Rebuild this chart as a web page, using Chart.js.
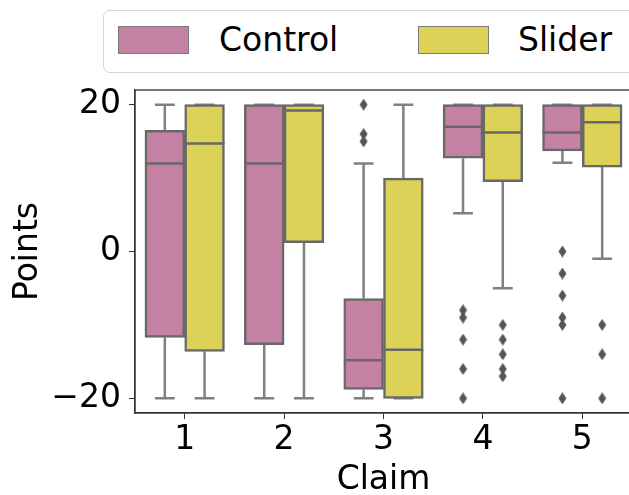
<!DOCTYPE html>
<html>
<head>
<meta charset="utf-8">
<script src="https://cdn.jsdelivr.net/npm/chart.js@4"></script>
<style>
  html, body { margin: 0; padding: 0; overflow: hidden; background: #fff; width: 629px; height: 495px; }
  #wrap { position: relative; width: 640px; height: 495px; }
  canvas { position: absolute; left: 0; top: 0; }
  #legend { position: absolute; left: 103px; top: 10px; width: 560px; height: 61px; border: 1px solid #d6d6d6; border-radius: 7px; background: #fff; font-family: 'DejaVu Sans', sans-serif; font-size: 33px; color: #000; }
  .patch { position: absolute; top: 15px; width: 69px; height: 26px; border: 1px solid #7a7a7a; }
  .ltext { position: absolute; top: 9px; line-height: 40px; }
</style>
</head>
<body>
<div id="wrap">
  <canvas id="c" width="640" height="495"></canvas>
  <div id="legend">
    <div class="patch" style="left:14px;background:#C581A3;"></div>
    <div class="ltext" style="left:115px;">Control</div>
    <div class="patch" style="left:314px;background:#DBD257;"></div>
    <div class="ltext" style="left:414px;">Slider</div>
  </div>
</div>
<script>
// ---- data ----
const claims = ['1', '2', '3', '4', '5'];
const yTicks = [-20, 0, 20];

const controlQ1  = [-11.7, -12.7, -18.8, 12.7, 13.7];
const controlMed = [12.0, 12.0, -14.8, 17.0, 16.2];
const controlQ3  = [16.5, 20, -6.4, 20, 20];
const controlLo  = [-20, -20, -20, 5.2, 12.1];
const controlHi  = [20, 20, 12, 20, 20];
const controlOut = [[], [], [20, 16, 15], [-8, -9, -12, -16, -20], [0, -3, -6, -9, -10, -20]];

const sliderQ1  = [-13.6, 1.2, -20, 9.5, 11.5];
const sliderMed = [14.7, 19.2, -13.4, 16.2, 17.6];
const sliderQ3  = [20, 20, 10, 20, 20];
const sliderLo  = [-20, -20, -20, -5, -1];
const sliderHi  = [20, 20, 20, 20, 20];
const sliderOut = [[], [], [], [-10, -12, -14, -16, -17], [-10, -14, -20]];

// ---- styles ----
const PINK = '#C581A3', YELLOW = '#DBD257';
const EDGE = '#686868', WHISK = '#808080', FLIER = '#555555';
const FONT = "'DejaVu Sans', sans-serif";

// thin diamond marker like matplotlib 'd'
const diamond = document.createElement('canvas');
diamond.width = 9; diamond.height = 12;
(function () {
  const g = diamond.getContext('2d');
  g.fillStyle = FLIER;
  g.beginPath();
  g.moveTo(4.5, 0); g.lineTo(8.5, 6); g.lineTo(4.5, 12); g.lineTo(0.5, 6);
  g.closePath(); g.fill();
})();

function boxSet(label, q1, q3, color, off) {
  return {
    type: 'bar', label, order: 3, grouped: false,
    data: q1.map((v, i) => ({ x: i + off, y: [v, q3[i]] })),
    backgroundColor: color, borderColor: EDGE, borderWidth: 2.5, borderSkipped: false,
    categoryPercentage: 1.0, barPercentage: 1.0
  };
}
function whiskerSet(q1, q3, lo, hi, off) {
  const pts = [];
  claims.forEach((c, i) => {
    const x = i + off;
    pts.push({x, y: q1[i]}, {x, y: lo[i]}, {x, y: null});
    pts.push({x, y: q3[i]}, {x, y: hi[i]}, {x, y: null});
    pts.push({x: x - 0.1, y: lo[i]}, {x: x + 0.1, y: lo[i]}, {x, y: null});
    pts.push({x: x - 0.1, y: hi[i]}, {x: x + 0.1, y: hi[i]}, {x, y: null});
  });
  return { type: 'line', order: 4, data: pts,
    borderColor: WHISK, borderWidth: 2.5, pointRadius: 0, spanGaps: false, fill: false, tension: 0 };
}
function medianSet(med, off) {
  const pts = [];
  claims.forEach((c, i) => {
    const x = i + off;
    pts.push({x: x - 0.2, y: med[i]}, {x: x + 0.2, y: med[i]}, {x, y: null});
  });
  return { type: 'line', order: 1, data: pts,
    borderColor: EDGE, borderWidth: 2.5, pointRadius: 0, spanGaps: false, fill: false, tension: 0 };
}
function flierSet(out, off) {
  const pts = [];
  out.forEach((arr, i) => arr.forEach(v => pts.push({x: i + off, y: v})));
  return { type: 'scatter', order: 0, data: pts,
    pointStyle: diamond, pointRadius: 5, showLine: false };
}

const frame = {
  id: 'frame',
  afterDraw(chart) {
    const a = chart.chartArea, g = chart.ctx;
    g.save();
    g.strokeStyle = '#333'; g.lineWidth = 1.3;
    g.strokeRect(a.left, a.top, a.right - a.left, a.bottom - a.top);
    g.restore();
  }
};

new Chart(document.getElementById('c'), {
  type: 'bar',
  data: {
    datasets: [
      whiskerSet(controlQ1, controlQ3, controlLo, controlHi, -0.2),
      whiskerSet(sliderQ1, sliderQ3, sliderLo, sliderHi, 0.2),
      boxSet('Control', controlQ1, controlQ3, PINK, -0.2),
      boxSet('Slider', sliderQ1, sliderQ3, YELLOW, 0.2),
      medianSet(controlMed, -0.2),
      medianSet(sliderMed, 0.2),
      flierSet(controlOut, -0.2),
      flierSet(sliderOut, 0.2)
    ]
  },
  options: {
    responsive: false, animation: false,
    layout: { padding: { top: 90, right: 8, left: 0, bottom: 0 } },
    plugins: { legend: { display: false }, tooltip: { enabled: false } },
    scales: {
      x: {
        type: 'linear', offset: false, min: -0.5, max: 4.5,
        afterBuildTicks(s) { s.ticks = claims.map((c, i) => ({ value: i })); },
        grid: { display: true, drawOnChartArea: false, drawTicks: true, tickLength: 6, color: '#333', offset: false },
        border: { display: true, color: '#333', width: 1.3 },
        ticks: { color: '#000', font: { family: FONT, size: 33 }, padding: 2, autoSkip: false, maxRotation: 0,
          callback: (v, i) => claims[i] },
        title: { display: true, text: 'Claim', color: '#000', font: { family: FONT, size: 33 }, padding: { top: 0, bottom: -5 } },
        afterFit(s) { s.height = 82; }
      },
      y: {
        type: 'linear', min: -22, max: 22,
        afterBuildTicks(s) { s.ticks = yTicks.map(v => ({ value: v })); },
        grid: { display: true, drawOnChartArea: false, drawTicks: true, tickLength: 6, color: '#333' },
        border: { display: true, color: '#333', width: 1.3 },
        ticks: { color: '#000', font: { family: FONT, size: 33 }, padding: 8,
          callback: v => String(v).replace('-', '\u2212') },
        title: { display: true, text: 'Points', color: '#000', font: { family: FONT, size: 33 }, padding: { top: 9, bottom: 0 } },
        afterFit(s) { s.width = 135; }
      }
    }
  },
  plugins: [frame]
});
</script>
</body>
</html>
